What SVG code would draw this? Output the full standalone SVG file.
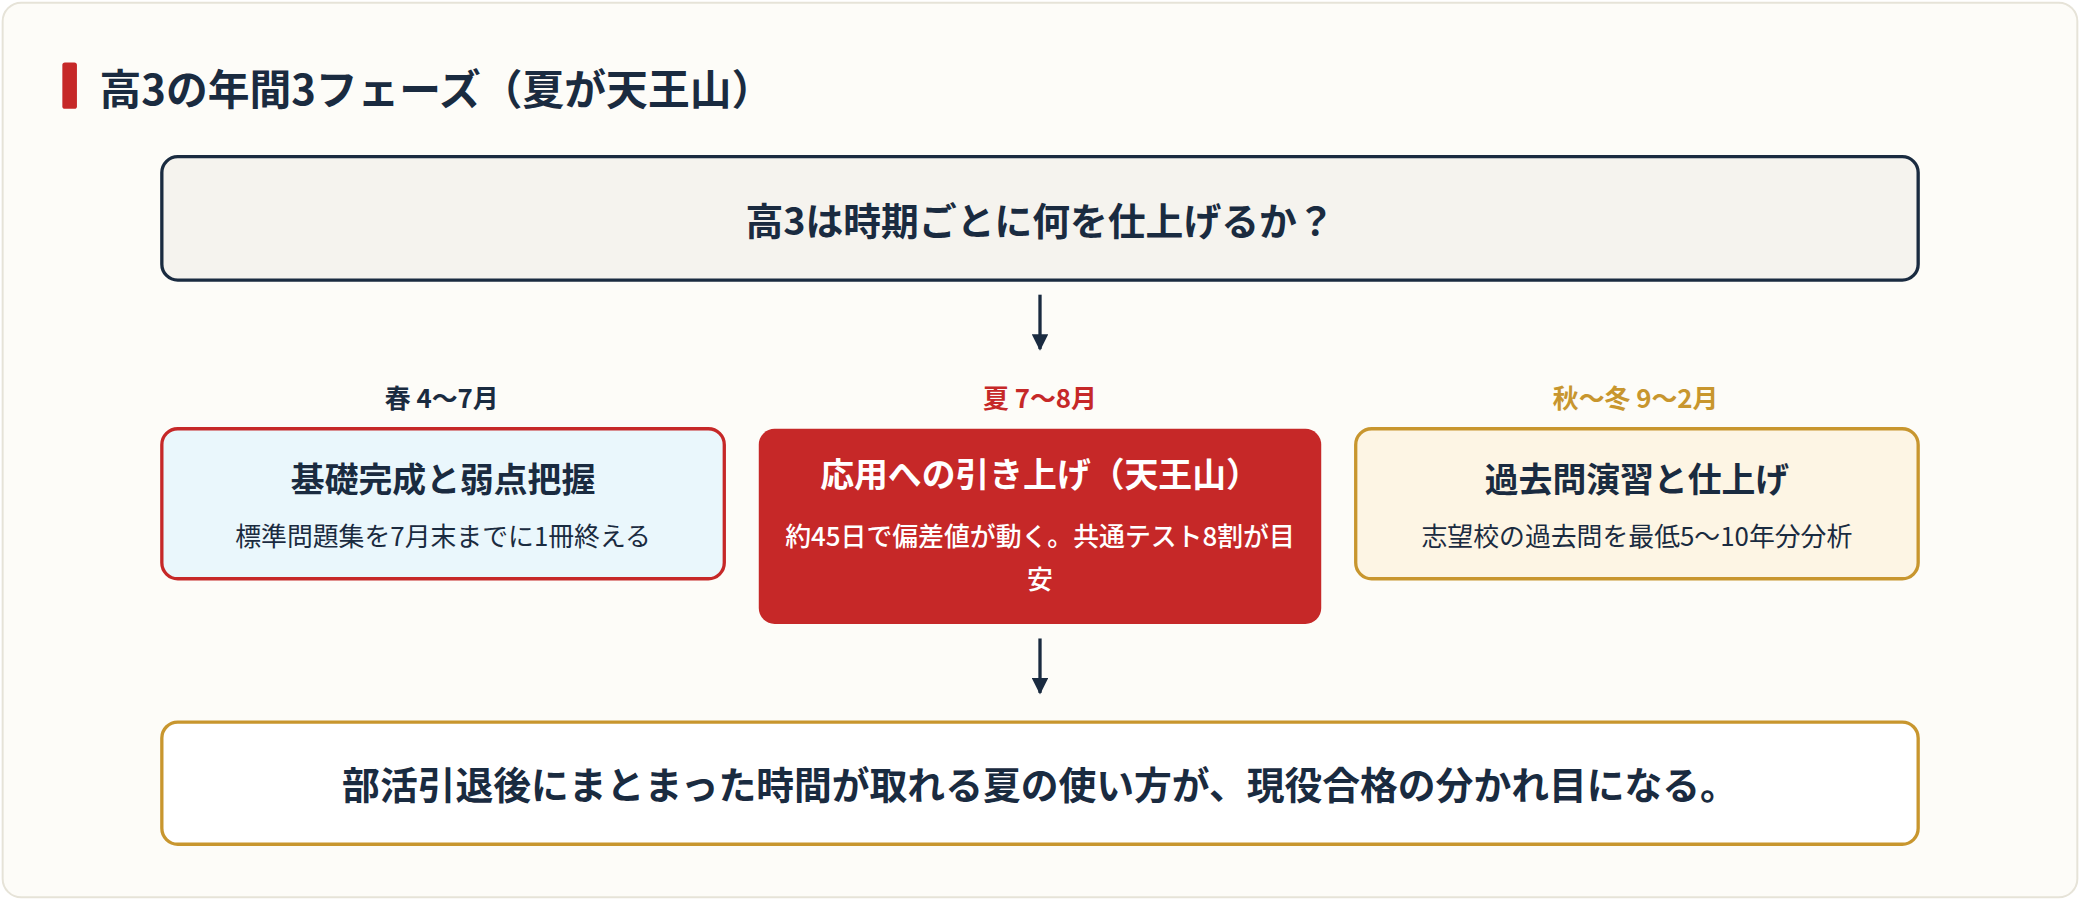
<svg xmlns="http://www.w3.org/2000/svg" width="2080" height="900" viewBox="0 0 2080 900">
<style>
text{font-family:"Noto Sans CJK JP","Noto Sans",sans-serif;text-anchor:middle;}
.t{font-weight:700;fill:#1a2b40;}
.s{font-size:19.5px;fill:#1a2b40;}
.arr{stroke:#1a2b40;stroke-width:2.5;fill:none;}
</style>
<defs><marker id="ah" viewBox="0 0 10 10" refX="9" refY="5" markerWidth="5" markerHeight="5" orient="auto"><path d="M0,0L10,5L0,10z" fill="#1a2b40"/></marker></defs>
<rect width="2080" height="900" fill="#ffffff"/>
<g transform="scale(1.32653 1.3274)">
<rect x="2" y="2" width="1564" height="674" rx="14" fill="#fdfcf8" stroke="#e6e3d8" stroke-width="1.5"/>
<g id="title"><rect x="47" y="47" width="11" height="35" rx="2" fill="#c62828"/><text x="75" y="79" class="t" style="text-anchor:start;font-size:31.5px">高3の年間3フェーズ（夏が天王山）</text></g>
<g id="q"><rect x="122" y="118" width="1324" height="93" rx="12" fill="#f5f3ee" stroke="#1a2b40" stroke-width="2.5"/><text x="784" y="177" class="t" style="font-size:28.5px">高3は時期ごとに何を仕上げるか？</text></g>
<g id="spring"><text x="333" y="307" class="t" style="font-size:19.5px">春 4〜7月</text><rect x="122" y="323" width="424" height="113" rx="12" fill="#eaf7fc" stroke="#c62828" stroke-width="2.5"/><text x="334" y="371" class="t" style="font-size:25.5px">基礎完成と弱点把握</text><text x="334" y="411" class="s">標準問題集を7月末までに1冊終える</text></g>
<g id="summer"><text x="784" y="307" class="t" style="font-size:19.5px;fill:#c62828">夏 7〜8月</text><rect x="572" y="323" width="424" height="147" rx="12" fill="#c62828"/><text x="784" y="367" class="t" style="font-size:25.5px;fill:#fff">応用への引き上げ（天王山）</text><text x="784" y="411" class="s" style="fill:#fff;font-weight:500">約45日で偏差値が動く。共通テスト8割が目</text><text x="784" y="444" class="s" style="fill:#fff;font-weight:500">安</text></g>
<g id="autumn"><text x="1233" y="307" class="t" style="font-size:19.5px;fill:#c8962e">秋〜冬 9〜2月</text><rect x="1022" y="323" width="424" height="113" rx="12" fill="#fdf5e4" stroke="#c8962e" stroke-width="2.5"/><text x="1234" y="371" class="t" style="font-size:25.5px">過去問演習と仕上げ</text><text x="1234" y="411" class="s">志望校の過去問を最低5〜10年分分析</text></g>
<g id="concl"><rect x="122" y="544" width="1324" height="92" rx="12" fill="#ffffff" stroke="#c8962e" stroke-width="2.5"/><text x="784" y="602" class="t" style="font-size:28.5px">部活引退後にまとまった時間が取れる夏の使い方が、現役合格の分かれ目になる。</text></g>
<g id="connectors"><line x1="784" y1="222" x2="784" y2="263" class="arr" marker-end="url(#ah)"/><line x1="784" y1="481" x2="784" y2="522" class="arr" marker-end="url(#ah)"/></g>
</g>
</svg>
